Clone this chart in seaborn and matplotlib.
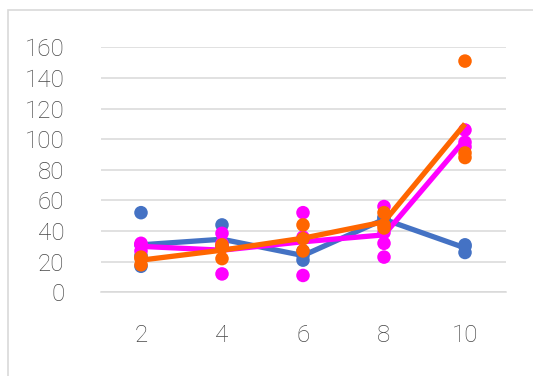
import matplotlib
matplotlib.use("Agg")
import matplotlib.pyplot as plt
import matplotlib.patches as mpatches
import seaborn as sns
import pandas as pd

# Replicate measurements at each x position, one list per group
x_levels = [2, 4, 6, 8, 10]
blue_vals = [[52, 17, 24, 31], [44, 30, 30], [21, 27, 24], [48, 46, 49], [31, 26, 30]]
magenta_vals = [[32, 27, 31], [38.5, 12, 32], [52, 11, 36], [56, 32, 23, 39], [106, 98, 95]]
orange_vals = [[22, 18, 23], [31, 22, 29.5], [44, 35, 27], [52, 42, 44], [151, 91, 88]]
y_ticks = [0, 20, 40, 60, 80, 100, 120, 140, 160]

groups = ["A", "B", "C"]
palette = {"A": "#4472C4", "B": "#FF00FF", "C": "#FF6600"}

rows = []
for name, vals in zip(groups, [blue_vals, magenta_vals, orange_vals]):
    for x, reps in zip(x_levels, vals):
        for v in reps:
            rows.append({"group": name, "x": x, "y": v})
df = pd.DataFrame(rows)

sns.set_theme(style="white")
plt.rcParams["font.family"] = ["Roboto", "DejaVu Sans"]

fig = plt.figure(figsize=(5.33, 3.76), dpi=100)
ax = fig.add_axes([100.5 / 533, 1 - 292.3 / 376, 405 / 533, 245 / 376])

for name in groups:
    sub = df[df["group"] == name]
    sns.scatterplot(data=sub, x="x", y="y", color=palette[name], s=95,
                    edgecolor="none", ax=ax, legend=False, clip_on=False, zorder=3)
    sns.lineplot(data=sub, x="x", y="y", estimator="mean", errorbar=None,
                 color=palette[name], linewidth=3.8, ax=ax, legend=False,
                 zorder=3, solid_capstyle="butt")

ax.set_xlim(1, 11)
ax.set_ylim(0, 160)
ax.set_xticks(x_levels)
ax.set_yticks(y_ticks)
ax.set_xlabel("")
ax.set_ylabel("")
ax.yaxis.grid(True, color="#D9D9D9", linewidth=1.1)
ax.xaxis.grid(False)
ax.set_axisbelow(True)
for s in ["top", "right", "left"]:
    ax.spines[s].set_visible(False)
ax.spines["bottom"].set_color("#D9D9D9")
ax.spines["bottom"].set_linewidth(1.1)
ax.tick_params(axis="both", length=0, labelsize=17.5, labelcolor="#474747")
ax.tick_params(axis="y", pad=26)
ax.tick_params(axis="x", pad=23)
for lab in ax.get_xticklabels() + ax.get_yticklabels():
    lab.set_fontweight("light")

# chart area outline
frame = mpatches.Rectangle((7.5 / 533, -0.1), 1.2, 1 - 10 / 376 + 0.1,
                           transform=fig.transFigure, fill=False,
                           edgecolor="#D9D9D9", linewidth=1.2)
fig.patches.append(frame)

fig.savefig("out.png", dpi=100)
